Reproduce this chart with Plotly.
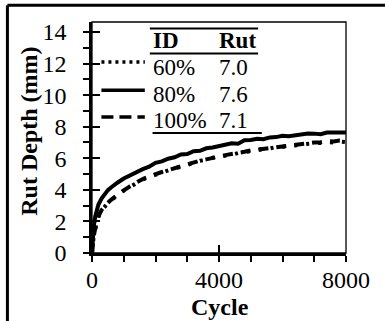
import plotly.graph_objects as go

# Rut depth versus load cycle for three ID levels
cycles = [0, 20, 50, 100, 150, 200, 300, 400, 500, 600, 700, 800, 1000, 1200,
          1400, 1600, 1800, 2000, 2200, 2400, 2600, 2800, 3000, 3200, 3400, 3600,
          3800, 4000, 4200, 4400, 4600, 4800, 5000, 5200, 5400, 5600, 5800, 6000,
          6200, 6400, 6600, 6800, 7000, 7200, 7400, 7600, 7800, 8000]

rut_60 = [0.00, 0.50, 1.00, 1.50, 1.95, 2.28, 2.70, 2.95, 3.16, 3.34, 3.52, 3.66,
          3.95, 4.20, 4.44, 4.66, 4.82, 4.97, 5.12, 5.22, 5.37, 5.46, 5.61, 5.70,
          5.84, 5.90, 6.03, 6.08, 6.18, 6.22, 6.33, 6.38, 6.47, 6.50, 6.60, 6.62,
          6.71, 6.72, 6.80, 6.81, 6.89, 6.90, 6.96, 6.97, 7.03, 6.99, 7.06, 7.02]

rut_80 = [0.00, 0.90, 1.60, 2.30, 2.75, 3.05, 3.45, 3.75, 3.98, 4.15, 4.32, 4.45,
          4.72, 4.93, 5.11, 5.31, 5.47, 5.71, 5.80, 5.97, 6.06, 6.24, 6.27, 6.45,
          6.47, 6.63, 6.68, 6.78, 6.83, 6.95, 6.92, 7.14, 7.16, 7.24, 7.21, 7.32,
          7.34, 7.42, 7.40, 7.47, 7.51, 7.57, 7.56, 7.52, 7.63, 7.62, 7.67, 7.63]

rut_100 = [0.00, 0.52, 1.02, 1.53, 1.97, 2.31, 2.72, 2.98, 3.18, 3.37, 3.54, 3.69,
           3.97, 4.23, 4.46, 4.69, 4.84, 5.00, 5.13, 5.25, 5.38, 5.49, 5.63, 5.73,
           5.85, 5.93, 6.05, 6.11, 6.20, 6.25, 6.35, 6.41, 6.49, 6.54, 6.62, 6.66,
           6.74, 6.76, 6.83, 6.86, 6.93, 6.95, 7.00, 7.02, 7.08, 7.06, 7.13, 7.11]

ids = ["60%", "80%", "100%"]
final_rut = ["7.0", "7.6", "7.1"]
dashes = ["3px,4px", "solid", "12px,6px"]
curve_dashes = ["3px,9px", "solid", "10px,8px"]

x_ticks = [0, 4000, 8000]
y_ticks = [0, 2, 4, 6, 8, 10, 12, 14]

FONT = "Liberation Serif"

fig = go.Figure()
for name, ys, dash in [("60%", rut_60, curve_dashes[0]),
                       ("80%", rut_80, curve_dashes[1]),
                       ("100%", rut_100, curve_dashes[2])]:
    fig.add_trace(go.Scatter(x=cycles, y=ys, mode="lines", name=name,
                             line=dict(color="black", width=4, dash=dash),
                             showlegend=False))

# empty trace that brings up the overlay axes carrying the inner tick halves
fig.add_trace(go.Scatter(x=[], y=[], xaxis="x2", yaxis="y2", showlegend=False))

x_range = [0, 8000]
y_range = [0, 14.63]

fig.update_layout(
    width=385, height=321,
    margin=dict(l=92, r=39, t=22, b=68),
    paper_bgcolor="white", plot_bgcolor="white",
    font=dict(family=FONT, color="black", size=24),
    xaxis=dict(range=x_range, tickvals=x_ticks, ticktext=[str(v) for v in x_ticks],
               ticks="outside", ticklen=6, tickwidth=1.5, tickcolor="black",
               minor=dict(dtick=1000, ticks="outside", ticklen=6, tickwidth=1.5,
                          tickcolor="black"),
               showline=True, linecolor="black", linewidth=2.5, showgrid=False,
               zeroline=False, tickfont=dict(family=FONT, size=24),
               ticklabelstandoff=-3),
    yaxis=dict(range=y_range, tickvals=y_ticks, ticktext=[str(v) for v in y_ticks],
               ticks="outside", ticklen=6, tickwidth=1.5, tickcolor="black",
               minor=dict(dtick=1, ticks="outside", ticklen=6, tickwidth=1.5,
                          tickcolor="black"),
               showline=True, linecolor="black", linewidth=2.5, showgrid=False,
               zeroline=False, tickfont=dict(family=FONT, size=24),
               ticklabelstandoff=12),
    xaxis2=dict(overlaying="x", anchor="y", side="bottom", range=x_range,
                tickvals=x_ticks, ticks="inside", ticklen=8, tickwidth=1.5,
                tickcolor="black", showticklabels=False, showgrid=False,
                zeroline=False, showline=False),
    yaxis2=dict(overlaying="y", anchor="x", side="left", range=y_range,
                tickvals=y_ticks, ticks="inside", ticklen=8, tickwidth=1.5,
                tickcolor="black", showticklabels=False, showgrid=False,
                zeroline=False, showline=False),
)

# thin frame on the top and right of the plotting area
fig.add_shape(type="rect", xref="paper", yref="paper", x0=0, x1=1, y0=0, y1=1,
              line=dict(color="black", width=1.3), layer="below")

# outer border of the figure (top and left edges)
fig.add_shape(type="line", xref="paper", yref="paper", x0=-0.333, x1=1.2,
              y0=1.072, y1=1.072, line=dict(color="black", width=3))
fig.add_shape(type="line", xref="paper", yref="paper", x0=-0.333, x1=-0.333,
              y0=1.072, y1=-0.35, line=dict(color="black", width=3))

# axis titles
fig.add_annotation(text="<b>Rut Depth (mm)</b>", xref="paper", yref="paper",
                   x=-0.246, y=0.527, textangle=-90, showarrow=False,
                   font=dict(family=FONT, size=24), xanchor="center",
                   yanchor="middle")
fig.add_annotation(text="<b>Cycle</b>", xref="paper", yref="paper",
                   x=0.504, y=-0.232, showarrow=False,
                   font=dict(family=FONT, size=24),
                   xanchor="center", yanchor="middle")


# key table: pixel positions inside the plot area converted to paper fractions
def px(x):
    return (x - 92.3) / 253.4


def py(y):
    return (252.7 - y) / 231.0


for y0, xa, xb, w in [(28.3, 150, 258, 2), (53.3, 150, 258, 2), (132.7, 152.7, 261.7, 2)]:
    fig.add_shape(type="line", xref="paper", yref="paper", x0=px(xa), x1=px(xb),
                  y0=py(y0), y1=py(y0), line=dict(color="black", width=w))

fig.add_annotation(text="<b>ID</b>", xref="paper", yref="paper", x=px(151.5),
                   y=py(40), xanchor="left", yanchor="middle", showarrow=False,
                   font=dict(family=FONT, size=23))
fig.add_annotation(text="<b>Rut</b>", xref="paper", yref="paper", x=px(217),
                   y=py(40), xanchor="left", yanchor="middle", showarrow=False,
                   font=dict(family=FONT, size=23))

row_y = [67, 94, 120]
sample_y = [61.7, 90, 116.7]
for name, val, dash, ty, sy in zip(ids, final_rut, dashes, row_y, sample_y):
    fig.add_annotation(text=name, xref="paper", yref="paper", x=px(151.5), y=py(ty),
                       xanchor="left", yanchor="middle", showarrow=False,
                       font=dict(family=FONT, size=23))
    fig.add_annotation(text=val, xref="paper", yref="paper", x=px(217), y=py(ty),
                       xanchor="left", yanchor="middle", showarrow=False,
                       font=dict(family=FONT, size=23))
    fig.add_shape(type="line", xref="paper", yref="paper", x0=px(101.7), x1=px(145),
                  y0=py(sy), y1=py(sy), line=dict(color="black", width=3.5, dash=dash))

fig.write_html("out.html")
